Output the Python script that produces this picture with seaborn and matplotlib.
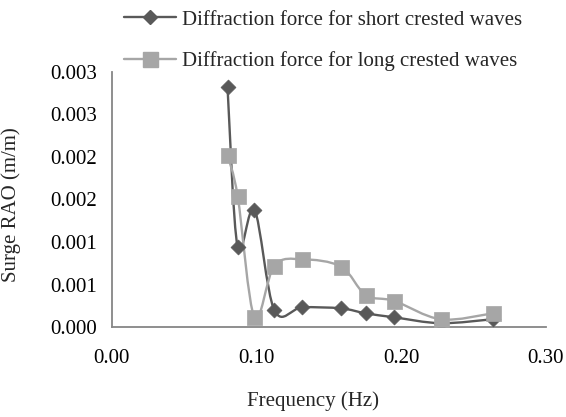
import numpy as np
import pandas as pd
import seaborn as sns
import matplotlib
matplotlib.use("Agg")
import matplotlib.pyplot as plt
from matplotlib.path import Path
from matplotlib.patches import PathPatch
from matplotlib.lines import Line2D

# ---- data ----
freq = [0.08, 0.087, 0.0986, 0.1124, 0.1317, 0.1585, 0.1755, 0.1953, 0.2274, 0.2633]
short_rao = [0.00282, 0.00094, 0.00138, 0.00020, 0.000235, 0.000222, 0.000164, 0.000117, 0.000048, 0.000095]
long_rao = [0.00202, 0.00154, 0.000117, 0.000723, 0.000798, 0.000711, 0.000379, 0.000309, 0.000094, 0.000164]
labels = ["Diffraction force for short crested waves", "Diffraction force for long crested waves"]
x_ticks = [0.0, 0.1, 0.2, 0.3]
x_tick_labels = ["0.00", "0.10", "0.20", "0.30"]
y_ticks = [0.0, 0.0005, 0.001, 0.0015, 0.002, 0.0025, 0.003]
y_tick_labels = ["0.000", "0.001", "0.001", "0.002", "0.002", "0.003", "0.003"]

dark = "#595959"
light = "#a6a6a6"
axis_col = "#868686"
fs = 15

sns.set_theme(style="white")
plt.rcParams["font.family"] = ["Liberation Serif", "DejaVu Serif"]

fig = plt.figure(figsize=(5.66, 4.17), dpi=100)
ax = fig.add_axes([111.7 / 566, 89.7 / 417, (546 - 111.7) / 566, (327.3 - 71.7) / 417])

df = pd.DataFrame({"freq": freq + freq,
                   "rao": short_rao + long_rao,
                   "series": [labels[0]] * len(freq) + [labels[1]] * len(freq)})


def smooth_path(xs, ys):
    pts = np.column_stack([xs, ys])
    n = len(pts)
    verts = [pts[0]]
    codes = [Path.MOVETO]
    for i in range(n - 1):
        p0 = pts[i - 1] if i > 0 else pts[i]
        p1 = pts[i]
        p2 = pts[i + 1]
        p3 = pts[i + 2] if i + 2 < n else pts[i + 1]
        c1 = p1 + (p2 - p0) / 6.0
        c2 = p2 - (p3 - p1) / 6.0
        verts += [c1, c2, p2]
        codes += [Path.CURVE4] * 3
    return Path(verts, codes)


lw = 1.7
for lab, col, mk, ms in [(labels[0], dark, "D", 7.6), (labels[1], light, "s", 10.8)]:
    sub = df[df["series"] == lab]
    ax.add_patch(PathPatch(smooth_path(sub["freq"].values, sub["rao"].values),
                           facecolor="none", edgecolor=col, lw=lw, zorder=2))
    sns.scatterplot(data=sub, x="freq", y="rao", marker=mk, s=ms ** 2,
                    color=col, edgecolor=col, linewidth=0.5, ax=ax, zorder=3,
                    legend=False)

ax.set_xlim(0, 0.3)
ax.set_ylim(0, 0.003)
ax.set_xticks(x_ticks)
ax.set_xticklabels(x_tick_labels)
ax.set_yticks(y_ticks)
ax.set_yticklabels(y_tick_labels)
ax.set_xlabel("")
ax.set_ylabel("")
for s in ["top", "right"]:
    ax.spines[s].set_visible(False)
for s in ["left", "bottom"]:
    ax.spines[s].set_color(axis_col)
    ax.spines[s].set_linewidth(1.3)
ax.tick_params(axis="both", which="major", direction="out", length=4.5, width=1.0,
               color=axis_col, labelsize=fs, labelcolor="black", pad=6)
ax.tick_params(axis="x", pad=11)
ax.grid(False)

fig.text(313 / 566, 1 - 401 / 417, "Frequency (Hz)", ha="center", va="center", fontsize=fs)
fig.text(11 / 566, 1 - 205 / 417, "Surge RAO (m/m)", ha="center", va="center",
         rotation=90, fontsize=fs)

handles = [Line2D([], [], color=dark, lw=lw, marker="D", ms=7.6, mec=dark),
           Line2D([], [], color=light, lw=lw, marker="s", ms=10.8, mec=light)]
fig.legend(handles, labels, loc="upper left", bbox_to_anchor=(124 / 566, 1 - 10 / 417),
           frameon=False, fontsize=fs, handlelength=2.5, handletextpad=0.3,
           labelspacing=1.05, borderpad=0, borderaxespad=0)

fig.savefig("out.png", dpi=100)
